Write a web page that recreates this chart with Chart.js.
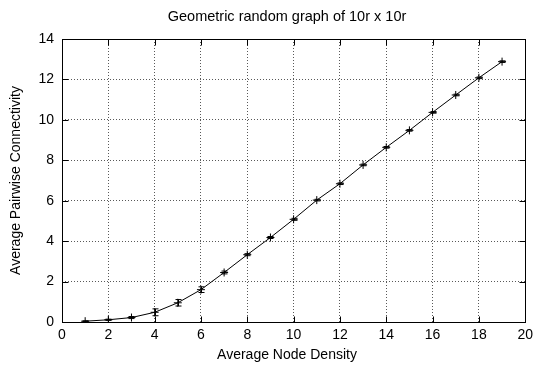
<!DOCTYPE html>
<html>
<head>
<meta charset="utf-8">
<title>Geometric random graph of 10r x 10r</title>
<script src="https://cdn.jsdelivr.net/npm/chart.js@4.4.1/dist/chart.umd.min.js"></script>
<style>
  html, body { margin: 0; padding: 0; background: #fff; }
  canvas { display: block; }
</style>
</head>
<body>
<canvas id="chart" width="538" height="372"></canvas>
<script>
// node density (x) and pairwise connectivity (y)
const densities = [1, 2, 3, 4, 5, 6, 7, 8, 9, 10, 11, 12, 13, 14, 15, 16, 17, 18, 19];
const connectivity = [0.04, 0.11, 0.22, 0.48, 0.95, 1.6, 2.45, 3.33, 4.18, 5.08, 6.03, 6.84, 7.77, 8.64, 9.48, 10.37, 11.23, 12.08, 12.88];
const errors = [0.02, 0.03, 0.05, 0.17, 0.16, 0.14, 0.07, 0.05, 0.05, 0.05, 0.04, 0.04, 0.04, 0.04, 0.04, 0.04, 0.04, 0.04, 0.04];

const titleText = 'Geometric random graph of 10r x 10r';
const xLabel = 'Average Node Density';
const yLabel = 'Average Pairwise Connectivity';

const FONT = "'Liberation Sans', Arial, sans-serif";

// error bars, drawn through the chart scales
const errorBars = {
    id: 'errorBars',
    afterDatasetsDraw(chart) {
        const { ctx, scales: { x, y } } = chart;
        ctx.save();
        ctx.strokeStyle = '#000';
        ctx.lineWidth = 1;
        densities.forEach((d, i) => {
            const px = Math.round(x.getPixelForValue(d)) + 0.5;
            const lo = y.getPixelForValue(connectivity[i] - errors[i]);
            const hi = y.getPixelForValue(connectivity[i] + errors[i]);
            ctx.beginPath();
            ctx.moveTo(px, lo);
            ctx.lineTo(px, hi);
            ctx.moveTo(px - 3, lo);
            ctx.lineTo(px + 3, lo);
            ctx.moveTo(px - 3, hi);
            ctx.lineTo(px + 3, hi);
            ctx.stroke();
        });
        ctx.restore();
    }
};

// solid border with inward ticks on all four sides, title and x label
const frame = {
    id: 'frame',
    afterDraw(chart) {
        const { ctx, chartArea: a, scales: { x, y } } = chart;
        const L = Math.round(a.left) + 0.5, R = Math.round(a.right) + 0.5;
        const T = Math.round(a.top) + 0.5, B = Math.round(a.bottom) + 0.5;
        ctx.save();
        ctx.strokeStyle = '#000';
        ctx.lineWidth = 1;
        ctx.strokeRect(L, T, R - L, B - T);
        ctx.beginPath();
        x.ticks.forEach(t => {
            const px = Math.round(x.getPixelForValue(t.value)) + 0.5;
            ctx.moveTo(px, B); ctx.lineTo(px, B - 6);
            ctx.moveTo(px, T); ctx.lineTo(px, T + 6);
        });
        y.ticks.forEach(t => {
            const py = Math.round(y.getPixelForValue(t.value)) + 0.5;
            ctx.moveTo(L, py); ctx.lineTo(L + 6, py);
            ctx.moveTo(R, py); ctx.lineTo(R - 6, py);
        });
        ctx.stroke();

        ctx.fillStyle = '#000';
        ctx.textAlign = 'center';
        ctx.textBaseline = 'middle';
        ctx.font = '14.5px ' + FONT;
        ctx.fillText(titleText, 287, 17);
        ctx.font = '14px ' + FONT;
        ctx.fillText(xLabel, 287, 355);
        ctx.restore();
    }
};

new Chart(document.getElementById('chart'), {
    type: 'scatter',
    data: {
        datasets: [{
            data: densities.map((d, i) => ({ x: d, y: connectivity[i] })),
            showLine: true,
            borderColor: '#000',
            borderWidth: 1,
            tension: 0,
            pointStyle: 'cross',
            pointRadius: 4,
            pointBorderColor: '#000',
            pointBorderWidth: 1
        }]
    },
    options: {
        responsive: false,
        animation: false,
        layout: { padding: { left: 0, right: 11, top: 39, bottom: 0 } },
        plugins: {
            legend: { display: false },
            tooltip: { enabled: false },
            title: { display: false }
        },
        scales: {
            x: {
                type: 'linear',
                min: 0,
                max: 20,
                ticks: { stepSize: 2, color: '#000', font: { family: FONT, size: 14 }, padding: 5, maxRotation: 0 },
                grid: { color: 'rgba(0,0,0,0.65)', drawTicks: false },
                border: { display: false, dash: [1, 2] },
                title: { display: false, text: xLabel },
                afterFit: s => { s.height = 50; }
            },
            y: {
                type: 'linear',
                min: 0,
                max: 14,
                ticks: { stepSize: 2, color: '#000', font: { family: FONT, size: 14 }, padding: 8 },
                grid: { color: 'rgba(0,0,0,0.65)', drawTicks: false },
                border: { display: false, dash: [1, 2] },
                title: { display: true, text: yLabel, color: '#000', font: { family: FONT, size: 14 }, padding: { top: 8, bottom: 0 } },
                afterFit: s => { s.width = 62; }
            }
        }
    },
    plugins: [errorBars, frame]
});
</script>
</body>
</html>
